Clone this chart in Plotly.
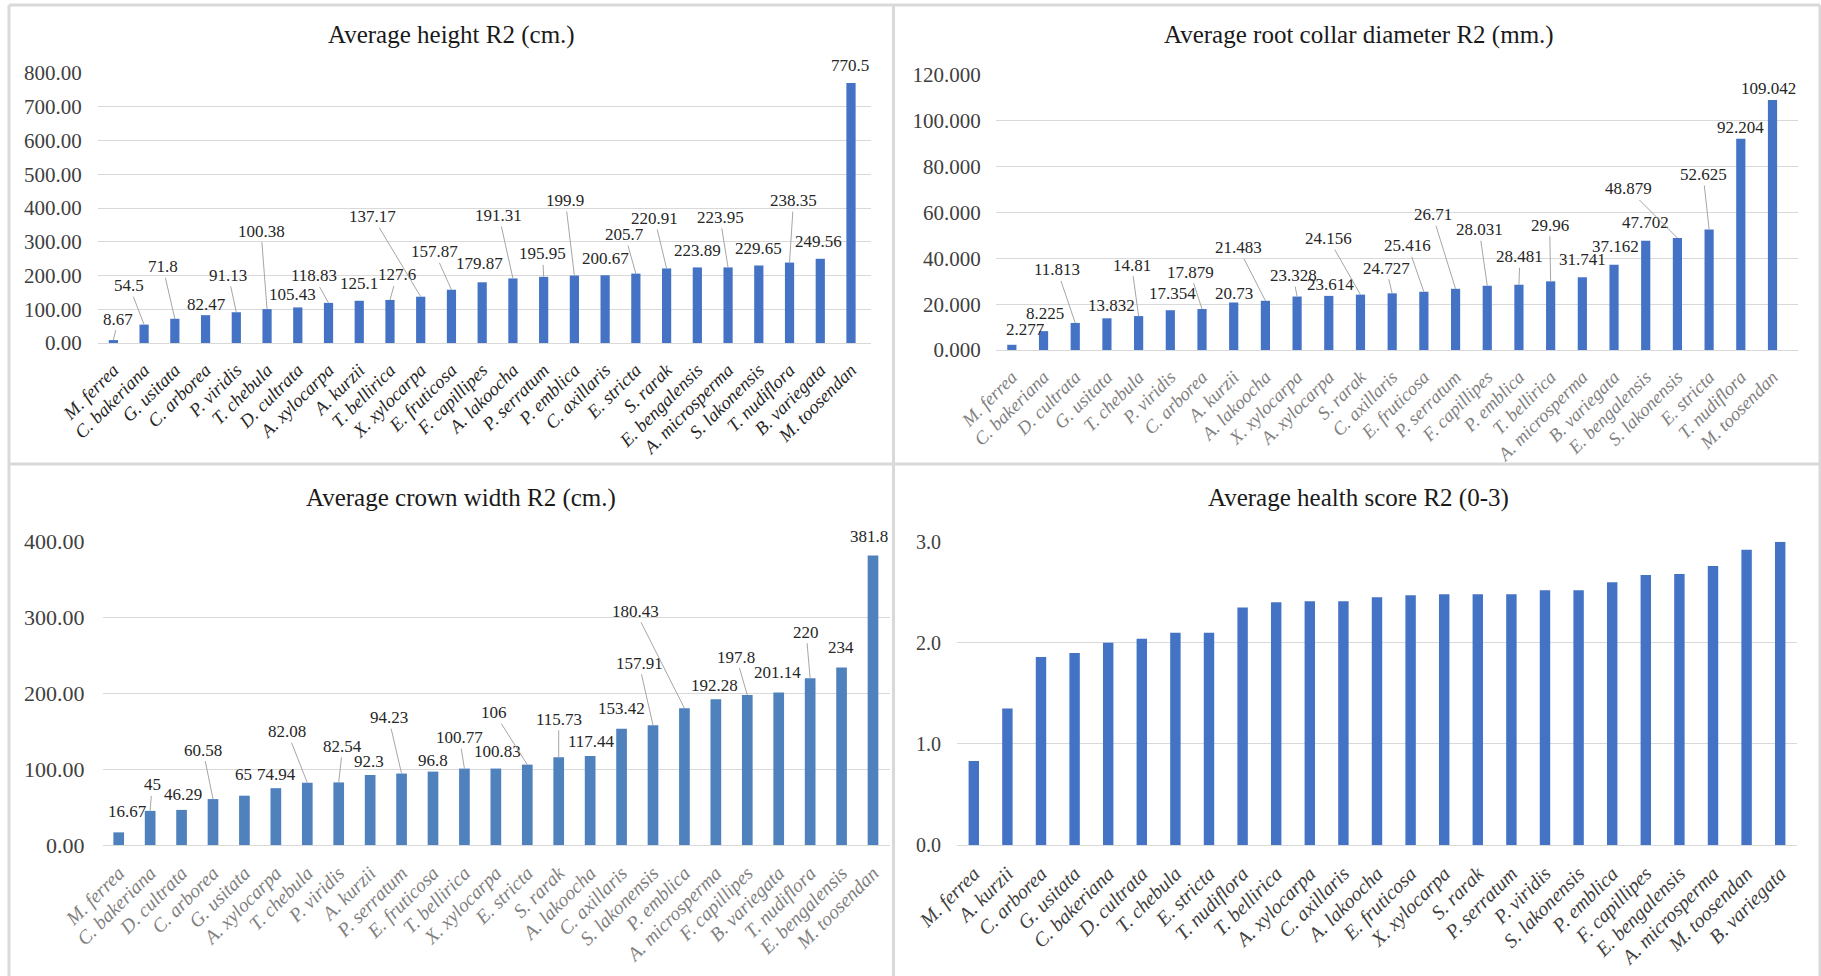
import plotly.graph_objects as go

# ---------------- DATA ----------------
height_species = ["M. ferrea", "C. bakeriana", "G. usitata", "C. arborea", "P. viridis", "T. chebula",
                  "D. cultrata", "A. xylocarpa", "A. kurzii", "T. bellirica", "X. xylocarpa", "E. fruticosa",
                  "F. capillipes", "A. lakoocha", "P. serratum", "P. emblica", "C. axillaris", "E. stricta",
                  "S. rarak", "E. bengalensis", "A. microsperma", "S. lakonensis", "T. nudiflora",
                  "B. variegata", "M. toosendan"]
height_values = [8.67, 54.5, 71.8, 82.47, 91.13, 100.38, 105.43, 118.83, 125.1, 127.6, 137.17, 157.87,
                 179.87, 191.31, 195.95, 199.9, 200.67, 205.7, 220.91, 223.89, 223.95, 229.65, 238.35,
                 249.56, 770.5]

rcd_species = ["M. ferrea", "C. bakeriana", "D. cultrata", "G. usitata", "T. chebula", "P. viridis",
               "C. arborea", "A. kurzii", "A. lakoocha", "X. xylocarpa", "A. xylocarpa", "S. rarak",
               "C. axillaris", "E. fruticosa", "P. serratum", "F. capillipes", "P. emblica", "T. bellirica",
               "A. microsperma", "B. variegata", "E. bengalensis", "S. lakonensis", "E. stricta",
               "T. nudiflora", "M. toosendan"]
rcd_values = [2.277, 8.225, 11.813, 13.832, 14.81, 17.354, 17.879, 20.73, 21.483, 23.328, 23.614, 24.156,
              24.727, 25.416, 26.71, 28.031, 28.481, 29.96, 31.741, 37.162, 47.702, 48.879, 52.625,
              92.204, 109.042]

crown_species = ["M. ferrea", "C. bakeriana", "D. cultrata", "C. arborea", "G. usitata", "A. xylocarpa",
                 "T. chebula", "P. viridis", "A. kurzii", "P. serratum", "E. fruticosa", "T. bellirica",
                 "X. xylocarpa", "E. stricta", "S. rarak", "A. lakoocha", "C. axillaris", "S. lakonensis",
                 "P. emblica", "A. microsperma", "F. capillipes", "B. variegata", "T. nudiflora",
                 "E. bengalensis", "M. toosendan"]
crown_values = [16.67, 45, 46.29, 60.58, 65, 74.94, 82.08, 82.54, 92.3, 94.23, 96.8, 100.77, 100.83, 106,
                115.73, 117.44, 153.42, 157.91, 180.43, 192.28, 197.8, 201.14, 220, 234, 381.8]

health_species = ["M. ferrea", "A. kurzii", "C. arborea", "G. usitata", "C. bakeriana", "D. cultrata",
                  "T. chebula", "E. stricta", "T. nudiflora", "T. bellirica", "A. xylocarpa", "C. axillaris",
                  "A. lakoocha", "E. fruticosa", "X. xylocarpa", "S. rarak", "P. serratum", "P. viridis",
                  "S. lakonensis", "P. emblica", "F. capillipes", "E. bengalensis", "A. microsperma",
                  "M. toosendan", "B. variegata"]
health_values = [0.83, 1.35, 1.86, 1.90, 2.00, 2.04, 2.10, 2.10, 2.35, 2.40, 2.41, 2.41, 2.45, 2.47, 2.48,
                 2.48, 2.48, 2.52, 2.52, 2.60, 2.67, 2.68, 2.76, 2.92, 3.00]

titles = ["Average height R2 (cm.)", "Average root collar diameter R2 (mm.)",
          "Average crown width R2 (cm.)", "Average health score R2 (0-3)"]

# ---------------- STYLE / LABEL PLACEMENT (pixel offsets dx, dy, leader) ----------------
height_lbl = [(5, -21, 1), (-15, -39, 1), (-12, -52, 1), (1, -11, 0), (-8, -37, 1), (-6, -78, 1),
              (-5, -13, 0), (-15, -27, 1), (0, -17, 0), (7, -25, 1), (-48, -80, 1), (-17, -38, 1),
              (-3, -19, 0), (-14, -63, 1), (-1, -23, 1), (-9, -75, 1), (0, -17, 0), (-11, -39, 1),
              (-12, -50, 1), (0, -17, 0), (-8, -50, 1), (0, -17, 0), (4, -62, 1), (-2, -17, 0),
              (-1, -17, 0)]
rcd_lbl = [(14, -15, 0), (1, -18, 0), (-18, -53, 1), (5, -13, 0), (-7, -51, 1), (2, -17, 0),
           (-12, -37, 1), (0, -9, 0), (-27, -53, 1), (-4, -21, 1), (2, -11, 0), (-32, -56, 1),
           (-6, -25, 1), (-16, -46, 1), (-23, -74, 1), (-8, -56, 1), (1, -28, 1), (-1, -56, 1),
           (0, -18, 0), (1, -18, 0), (0, -18, 0), (-49, -49, 1), (-6, -55, 1), (0, -11, 0),
           (-4, -12, 0)]
crown_lbl = [(9, -21, 0), (2, -26, 1), (1, -15, 0), (-10, -49, 1), (-1, -21, 0), (1, -14, 0),
             (-20, -51, 1), (4, -36, 1), (-1, -14, 0), (-13, -56, 1), (0, -11, 0), (-5, -31, 1),
             (2, -17, 0), (-33, -52, 1), (0, -38, 1), (1, -14, 0), (0, -20, 0), (-14, -62, 1),
             (-49, -97, 1), (-1, -14, 0), (-11, -38, 1), (-1, -20, 0), (-4, -46, 1), (-1, -20, 0),
             (-4, -19, 0)]

W, H = 1821, 976
SERIF = "Liberation Serif"
GRID = "#d9d9d9"


def px(x):
    return x / W


def py(y):
    return 1 - y / H


panels = [
    dict(sp=height_species, v=height_values, color="#4472C4", xd=(98, 871), yd=(73, 343), yr=800, dt=100,
         fmt=".2f", xc="#262626", xs=18.5, ys=21, tl=11, bw=0.3, lbl=height_lbl, tpos=(451, 35)),
    dict(sp=rcd_species, v=rcd_values, color="#4472C4", xd=(996, 1798), yd=(75, 350), yr=120, dt=20,
         fmt=".3f", xc="#808080", xs=18.5, ys=21, tl=10, bw=0.29, lbl=rcd_lbl, tpos=(1359, 35)),
    dict(sp=crown_species, v=crown_values, color="#4F81BD", xd=(103, 890), yd=(541.7, 845), yr=400, dt=100,
         fmt=".2f", xc="#808080", xs=19.5, ys=22, tl=13, bw=0.34, lbl=crown_lbl, tpos=(461, 498)),
    dict(sp=health_species, v=health_values, color="#4472C4", xd=(957, 1797), yd=(541.7, 845), yr=3, dt=1,
         fmt=".1f", xc="#404040", xs=20, ys=20, tl=11, bw=0.31, lbl=None, tpos=(1358, 498)),
]

fig = go.Figure()
annotations = []
layout_axes = {}

for i, p in enumerate(panels):
    n = "" if i == 0 else str(i + 1)
    xa, ya = "x" + n, "y" + n
    fig.add_trace(go.Bar(x=p["sp"], y=p["v"], marker=dict(color=p["color"], line=dict(width=0)),
                         width=p["bw"], xaxis=xa, yaxis=ya, showlegend=False, hoverinfo="x+y"))
    layout_axes["xaxis" + n] = dict(
        domain=[px(p["xd"][0]), px(p["xd"][1])], anchor=ya, type="category", automargin=False,
        tickangle=-45, showgrid=False, zeroline=False, showline=False,
        ticks="outside", ticklen=8, tickcolor="rgba(0,0,0,0)",
        tickfont=dict(family=SERIF, size=p["xs"], color=p["xc"], style="italic"),
        fixedrange=True)
    layout_axes["yaxis" + n] = dict(
        domain=[py(p["yd"][1]), py(p["yd"][0])], anchor=xa, range=[0, p["yr"]], dtick=p["dt"],
        tick0=0, tickformat=p["fmt"], showgrid=True, gridcolor=GRID, gridwidth=1, automargin=False,
        zeroline=True, zerolinecolor=GRID, zerolinewidth=1, showline=False,
        ticks="outside", ticklen=p["tl"], tickcolor="rgba(0,0,0,0)",
        tickfont=dict(family=SERIF, size=p["ys"], color="#404040"), fixedrange=True)
    annotations.append(dict(text=titles[i], xref="paper", yref="paper", x=px(p["tpos"][0]),
                            y=py(p["tpos"][1]), xanchor="center", yanchor="middle", showarrow=False,
                            font=dict(family=SERIF, size=25, color="#1a1a1a")))
    if p["lbl"]:
        for cat, val, (dx, dy, lead) in zip(p["sp"], p["v"], p["lbl"]):
            txt = f"{val:g}"
            base = dict(text=txt, xref=xa, yref=ya, x=cat, y=val,
                        font=dict(family=SERIF, size=17, color="#262626"))
            if lead:
                base.update(showarrow=True, ax=dx, ay=dy, arrowhead=0, arrowwidth=1,
                            arrowcolor="#a6a6a6", standoff=0, startstandoff=0)
            else:
                base.update(showarrow=False, xshift=dx, yshift=-dy)
            annotations.append(base)

shapes = []
bc = dict(color=GRID, width=3)
for (x0, y0, x1, y1) in [(9, 5, 1820, 5), (9, 5, 9, 976), (1820, 5, 1820, 976),
                         (893.5, 5, 893.5, 976), (9, 464, 1820, 464)]:
    shapes.append(dict(type="line", xref="paper", yref="paper", x0=px(x0), y0=py(y0), x1=px(x1),
                       y1=py(y1), line=bc, layer="below"))

fig.update_layout(
    template="none",
    width=W, height=H, margin=dict(l=0, r=0, t=0, b=0, pad=0, autoexpand=False),
    paper_bgcolor="white", plot_bgcolor="rgba(0,0,0,0)",
    annotations=annotations, shapes=shapes, bargap=0.7, **layout_axes)

fig.write_html("out.html", config={"displayModeBar": False},
               post_script="document.body.style.margin='0px';document.body.style.overflow='hidden';")
